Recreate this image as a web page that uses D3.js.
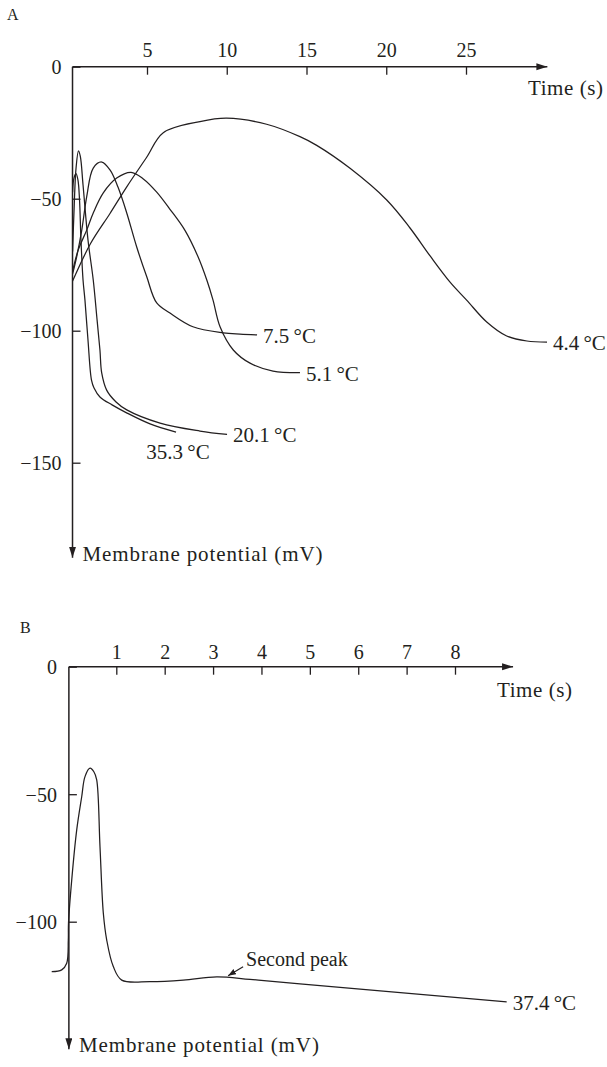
<!DOCTYPE html>
<html>
<head>
<meta charset="utf-8">
<script src="https://cdn.jsdelivr.net/npm/d3@7"></script>
<style>
  body { margin: 0; background: #fff; }
  text { font-family: "Liberation Serif", "Times New Roman", serif; fill: #231f20; }
</style>
</head>
<body>
<div id="chart"></div>
<script>
// ---- panel A: action potentials at five temperatures (time s, potential mV)
var ticksTimeA = [5, 10, 15, 20, 25]
var ticksPotA = [0, -50, -100, -150]

var curve353 = [[0.335,-47.5],[0.42,-42.2],[0.55,-40.5],[0.67,-42.9],[0.77,-50.5],[0.86,-65.6],
  [0.99,-80.8],[1.11,-88.4],[1.30,-103.5],[1.52,-118.7],[1.68,-121.7],[2.05,-125.1],
  [2.81,-128.1],[3.75,-131.2],[5.19,-135.3],[6.82,-138.4]]
var curve201 = [[0.335,-70],[0.42,-55.4],[0.55,-38.5],[0.705,-31.9],[0.82,-34],[0.99,-44.8],
  [1.30,-65.6],[1.63,-80.8],[1.87,-95.9],[2.05,-107.3],[2.16,-116.0],[2.47,-122.5],
  [3.06,-127.0],[3.73,-130.0],[5.82,-135.0],[8.32,-138.0],[10.02,-139.3]]
var curve75 = [[0.335,-78.5],[0.59,-72.0],[0.91,-61.9],[1.22,-49.2],[1.63,-38.4],[2.16,-36.1],
  [2.68,-39.1],[3.18,-45.6],[3.73,-55.4],[4.35,-68.2],[4.98,-79.5],[5.61,-89.5],[6.44,-93.3],
  [7.88,-98.5],[9.77,-100.8],[10.83,-101.3],[11.90,-101.6]]
var curve51 = [[0.335,-77.5],[0.69,-69.4],[1.22,-61.9],[1.63,-55.4],[2.26,-47.8],[3.10,-42.2],
  [4.0,-40.0],[4.77,-42.5],[5.61,-47.5],[6.44,-54.0],[7.38,-62.0],[8.2,-72.0],[8.76,-81.0],
  [9.14,-88.4],[9.58,-98.5],[10.41,-107.3],[11.46,-112.3],[12.90,-115.3],[14.59,-115.9]]
var curve44 = [[0.335,-81.2],[1.47,-66.9],[2.68,-55.6],[3.73,-45.5],[4.98,-34.3],[6.02,-25.0],
  [8.32,-20.8],[9.99,-19.5],[12.5,-21.8],[14.59,-26.5],[15.64,-29.8],[17.73,-38.5],
  [20.03,-50.5],[21.49,-61.1],[22.75,-71.7],[24.0,-81.6],[25.04,-88.4],[26.30,-96.7],
  [27.55,-102.0],[28.82,-103.9],[30.08,-104.3]]
var tempsA = ["35.3\u2009°C", "20.1\u2009°C", "7.5\u2009°C", "5.1\u2009°C", "4.4\u2009°C"]

// ---- panel B: 37.4 °C
var ticksTimeB = [1, 2, 3, 4, 5, 6, 7, 8]
var ticksPotB = [0, -50, -100]
var curve374 = [[-0.335,-119.6],[-0.128,-118.9],[-0.025,-116.3],[0.008,-107.2],[0.012,-100.6],
  [0.079,-83.6],[0.182,-64.0],[0.285,-51.0],[0.353,-43.1],[0.457,-39.8],[0.539,-41.3],
  [0.595,-44.4],[0.663,-70.6],[0.732,-96.7],[0.802,-107.2],[0.938,-117.6],[1.112,-122.9],
  [1.697,-123.5],[2.385,-122.9],[3.075,-121.6],[3.763,-122.6],[4.796,-124.4],[9.068,-131.4]]
var tempB = "37.4\u2009°C"
var secondPeak = [3.29, -121.6]

var W = 607, H = 1067
var ink = "#231f20"

var svg = d3.select('#chart').append('svg')
  .attr('width', W).attr('height', H)

var defs = svg.append('defs')
defs.append('marker')
  .attr('id', 'arrow')
  .attr('markerUnits', 'userSpaceOnUse')
  .attr('markerWidth', 12).attr('markerHeight', 8)
  .attr('refX', 11).attr('refY', 3.5)
  .attr('orient', 'auto')
  .append('path').attr('d', 'M0,0 L11,3.5 L0,7 z').attr('fill', ink)
defs.append('marker')
  .attr('id', 'arrowSmall')
  .attr('markerUnits', 'userSpaceOnUse')
  .attr('markerWidth', 9).attr('markerHeight', 7)
  .attr('refX', 8).attr('refY', 3)
  .attr('orient', 'auto')
  .append('path').attr('d', 'M0,0 L8,3 L0,6 z').attr('fill', ink)

var line = function(x, y) {
  return d3.line()
    .x(d => x(d[0]))
    .y(d => y(d[1]))
    .curve(d3.curveCatmullRom.alpha(0.5))
}

// draws axes of one panel
let drawAxes = function(g, x, y, o) {
  var x0 = x(o.t0)
  var xa = d3.axisTop(x).tickValues(o.tTicks).tickSize(-8).tickPadding(o.xPad).tickFormat(d3.format('d'))
  var gx = g.append('g').attr('transform', 'translate(0,' + y(0) + ')').call(xa)
  gx.attr('font-family', null)
  gx.select('.domain').remove()
  gx.selectAll('line').attr('stroke', ink).attr('stroke-width', 1.3)
  gx.selectAll('text').attr('font-size', 20).attr('fill', ink)

  var ya = d3.axisLeft(y).tickValues(o.vTicks).tickSize(-8).tickPadding(o.yPad)
    .tickFormat(d => d == 0 ? '0' : '\u2212' + Math.abs(d))
  var gy = g.append('g').attr('transform', 'translate(' + x0 + ',0)').call(ya)
  gy.attr('font-family', null)
  gy.select('.domain').remove()
  gy.selectAll('line').attr('stroke', ink).attr('stroke-width', 1.3)
  gy.selectAll('text').attr('font-size', 20).attr('fill', ink).attr('dy', '0.35em')

  g.append('line')
    .attr('x1', x0).attr('x2', x(o.tEnd))
    .attr('y1', y(0)).attr('y2', y(0))
    .attr('stroke', ink).attr('stroke-width', 1.5)
    .attr('marker-end', 'url(#arrow)')
  g.append('line')
    .attr('x1', x0).attr('x2', x0)
    .attr('y1', y(0)).attr('y2', y(o.vEnd))
    .attr('stroke', ink).attr('stroke-width', 1.5)
    .attr('marker-end', 'url(#arrow)')

  g.append('text').attr('x', o.timeLbl[0]).attr('y', o.timeLbl[1])
    .attr('font-size', 21).attr('textLength', 75).attr('lengthAdjust', 'spacing')
    .text('Time (s)')
  g.append('text').attr('x', x0 + 10).attr('y', y(o.vEnd) + 3)
    .attr('font-size', 21).attr('textLength', 240).attr('lengthAdjust', 'spacing')
    .text('Membrane potential (mV)')
}

// ---- panel A
var xA = d3.scaleLinear().domain([5, 25]).range([147, 466])
var yA = d3.scaleLinear().domain([0, -150]).range([66.7, 462.7])
var gA = svg.append('g')
gA.append('text').attr('x', 7).attr('y', 20).attr('font-size', 16).text('A')
drawAxes(gA, xA, yA, {
  t0: 0.33, tEnd: 30.1, vEnd: -186, tTicks: ticksTimeA, vTicks: ticksPotA,
  xPad: 10, yPad: 11, timeLbl: [528, 95]
})

var seriesA = [curve353, curve201, curve75, curve51, curve44]
gA.selectAll('.curve')
  .data(seriesA)
  .enter()
  .append('path')
  .attr('class', 'curve')
  .attr('d', line(xA, yA))
  .attr('fill', 'none')
  .attr('stroke', ink)
  .attr('stroke-width', 1.25)

gA.selectAll('.temp')
  .data(seriesA)
  .enter()
  .append('text')
  .attr('class', 'temp')
  .attr('font-size', 21)
  .attr('x', (d, i) => xA(d[d.length - 1][0]) + (i == 0 ? 2 : 6))
  .attr('y', (d, i) => yA(d[d.length - 1][1]) + (i == 0 ? 27 : 8))
  .attr('text-anchor', (d, i) => i == 0 ? 'middle' : 'start')
  .text((d, i) => tempsA[i])

// ---- panel B
var xB = d3.scaleLinear().domain([1, 8]).range([116.3, 455])
var yB = d3.scaleLinear().domain([0, -100]).range([666.7, 921.7])
var gB = svg.append('g')
gB.append('text').attr('x', 20).attr('y', 633).attr('font-size', 16).text('B')
drawAxes(gB, xB, yB, {
  t0: 0.02, tEnd: 9.2, vEnd: -150, tTicks: ticksTimeB, vTicks: ticksPotB,
  xPad: 8, yPad: 12, timeLbl: [497, 697]
})

gB.append('path')
  .datum(curve374)
  .attr('d', line(xB, yB))
  .attr('fill', 'none')
  .attr('stroke', ink)
  .attr('stroke-width', 1.25)

var endB = curve374[curve374.length - 1]
gB.append('text')
  .attr('x', xB(endB[0]) + 6).attr('y', yB(endB[1]) + 8)
  .attr('font-size', 21)
  .text(tempB)

var sx = xB(secondPeak[0]), sy = yB(secondPeak[1])
gB.append('line')
  .attr('x1', sx + 16).attr('y1', sy - 10)
  .attr('x2', sx + 1).attr('y2', sy - 1)
  .attr('stroke', ink).attr('stroke-width', 1.2)
  .attr('marker-end', 'url(#arrowSmall)')
gB.append('text')
  .attr('x', sx + 19).attr('y', sy - 11)
  .attr('font-size', 20)
  .text('Second peak')
</script>
</body>
</html>
